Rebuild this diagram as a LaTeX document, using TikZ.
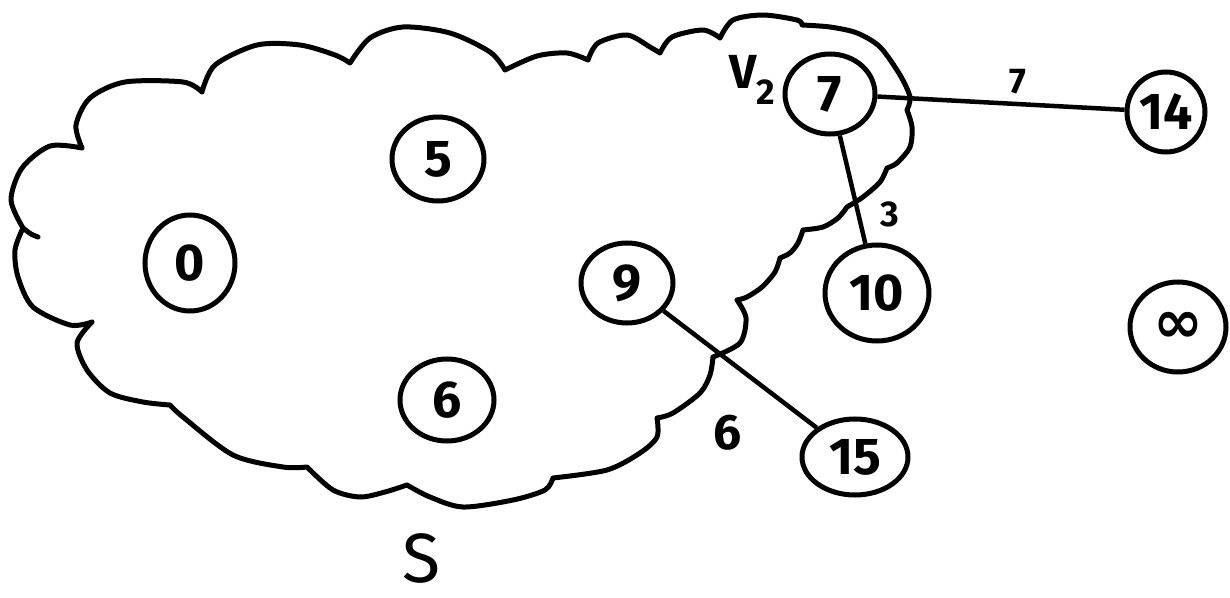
\documentclass[tikz,border=0pt]{standalone}
\usepackage{fontspec}
\setmainfont{Fira Sans}
\newfontfamily\symfont{DejaVu Sans}
\usetikzlibrary{shapes.geometric}
\begin{document}
\begin{tikzpicture}[x=1bp,y=-1bp,
  vert/.style={ellipse, draw, line width=5bp, inner sep=0pt, font=\fontsize{52}{56}\selectfont\bfseries},
  conn/.style={line width=4.5bp},
  lbl/.style={inner sep=0pt},
  cloudline/.style={line width=5bp, line join=round, line cap=round}]
\useasboundingbox (0,0) rectangle (1230,598);
% the set S (cloud)
\draw[cloudline]
  plot[smooth] coordinates {(23,228) (11,200) (22,168) (50,146) (82,148)}
  plot[smooth] coordinates {(82,148) (76,125) (90,98) (125,82) (183,82) (202,92)}
  plot[smooth] coordinates {(202,92) (215,65) (257,45) (300,45) (335,55) (350,63)}
  plot[smooth] coordinates {(350,63) (370,38) (403,27) (450,33) (490,52) (505,70)}
  plot[smooth] coordinates {(505,70) (537,56) (567,53) (588,60)}
  plot[smooth] coordinates {(588,60) (598,43) (627,35) (650,47) (660,53)}
  plot[smooth] coordinates {(660,53) (672,37) (703,30) (720,38)}
  plot[smooth] coordinates {(720,38) (733,20) (763,15) (797,20) (802,25)}
  plot[smooth] coordinates {(802,25) (830,27) (857,33) (880,47) (900,75) (910,97) (907,110)}
  plot[smooth] coordinates {(907,110) (912,127) (910,147) (897,163) (887,168)}
  plot[smooth] coordinates {(887,168) (880,182) (863,197) (847,207)}
  plot[smooth] coordinates {(847,207) (838,218) (823,227) (803,230)}
  plot[smooth] coordinates {(803,230) (798,243) (790,253) (780,258)}
  plot[smooth] coordinates {(780,258) (775,272) (762,287) (747,297) (737,300)}
  plot[smooth] coordinates {(737,300) (746,318) (740,343) (713,357)}
  plot[smooth] coordinates {(713,357) (710,375) (700,393) (673,413) (657,418)}
  plot[smooth] coordinates {(657,418) (657,437) (640,453) (607,470) (553,478)}
  plot[smooth] coordinates {(553,478) (545,490) (513,500) (463,507) (430,497) (407,485)}
  plot[smooth] coordinates {(407,485) (385,492) (360,497) (333,490) (307,467)}
  plot[smooth] coordinates {(307,467) (283,467) (233,455) (183,417) (170,405)}
  plot[smooth] coordinates {(170,405) (143,402) (110,393) (87,370) (77,343) (92,322)}
  plot[smooth] coordinates {(92,322) (70,325) (33,307) (18,277) (15,250) (23,228)}
  plot[smooth] coordinates {(23,228) (31,234) (38,237)};
% vertices
\node[vert, minimum width=90bp, minimum height=96bp] (n0) at (190,263) {0};
\node[vert, minimum width=92bp, minimum height=84bp] (n5) at (438,159) {5};
\node[vert, minimum width=92bp, minimum height=80bp] (n9) at (627,283) {9};
\node[vert, minimum width=94bp, minimum height=82bp] (n6) at (447,400) {6};
\node[vert, minimum width=90bp, minimum height=80bp] (n7) at (830,94) {7};
\node[vert, minimum width=104bp, minimum height=96bp] (n10) at (877,293) {10};
\node[vert, minimum width=78bp, minimum height=80bp] (n14) at (1166,112) {14};
\node[vert, minimum width=106bp, minimum height=76bp] (n15) at (855,457) {15};
\node[vert, minimum width=96bp, minimum height=90bp, font=\fontsize{60}{62}\selectfont\symfont\bfseries] (ninf) at (1178,327) {∞};
% edges
\draw[conn] (n7) -- (n14);
\draw[conn] (n7) -- (n10);
\draw[conn] (n9) -- (n15);
% labels
\node[lbl, font=\fontsize{36}{40}\selectfont\bfseries] (w7) at (1018,82) {7};
\node[lbl, font=\fontsize{36}{40}\selectfont\bfseries] (w3) at (890,214) {3};
\node[lbl, font=\fontsize{50}{54}\selectfont\bfseries] (w6) at (728,433) {6};
\node[lbl, font=\fontsize{48}{52}\selectfont\bfseries] (v2) at (752,80) {V\raisebox{-16bp}{\fontsize{36}{38}\selectfont 2}};
\node[lbl, font=\fontsize{70}{74}\selectfont] (S) at (421,558) {S};
\end{tikzpicture}
\end{document}
